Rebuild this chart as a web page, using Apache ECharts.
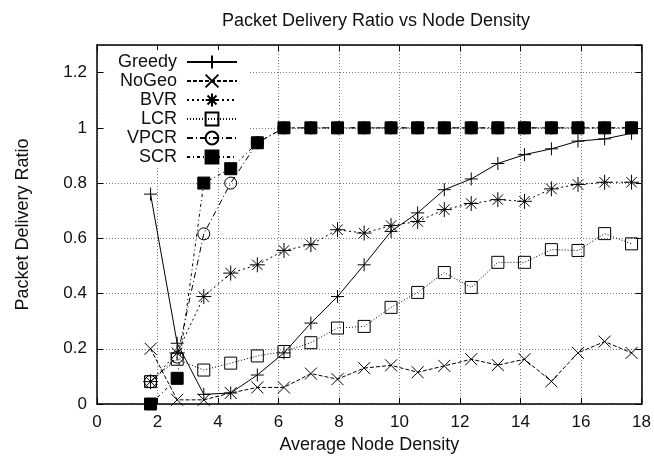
<!DOCTYPE html>
<html>
<head>
<meta charset="utf-8">
<script src="https://cdn.jsdelivr.net/npm/echarts@6/dist/echarts.min.js"></script>
<style>
  html, body { margin: 0; padding: 0; background: #fff; }
  #chart { width: 654px; height: 462px; }
</style>
</head>
<body>
<div id="chart"></div>
<script>
// Average node density at each simulated point
const density = [1.77, 2.65, 3.53, 4.42, 5.30, 6.18, 7.07, 7.95, 8.83, 9.72,
                 10.60, 11.48, 12.37, 13.25, 14.13, 15.02, 15.90, 16.78, 17.67];

// Packet delivery ratio per routing scheme
const greedy = [0.76, 0.22, 0.035, 0.04, 0.105, 0.185, 0.293, 0.389, 0.504, 0.625,
                0.692, 0.776, 0.815, 0.871, 0.903, 0.924, 0.952, 0.960, 0.980];
const noGeo  = [0.20, 0.015, 0.015, 0.04, 0.06, 0.06, 0.11, 0.09, 0.13, 0.14,
                0.115, 0.138, 0.162, 0.141, 0.162, 0.082, 0.185, 0.226, 0.185];
const bvr    = [0.081, 0.185, 0.389, 0.474, 0.504, 0.556, 0.577, 0.631, 0.619, 0.646,
                0.661, 0.704, 0.726, 0.740, 0.734, 0.779, 0.795, 0.803, 0.803];
const lcr    = [0.081, 0.162, 0.123, 0.148, 0.174, 0.19, 0.222, 0.275, 0.281, 0.35,
                0.404, 0.476, 0.422, 0.513, 0.513, 0.559, 0.556, 0.617, 0.58];
const vpcr   = [0.081, 0.17, 0.616, 0.80, 0.946, 1, 1, 1, 1, 1,
                1, 1, 1, 1, 1, 1, 1, 1, 1];
const scr    = [0, 0.093, 0.80, 0.852, 0.946, 1, 1, 1, 1, 1,
                1, 1, 1, 1, 1, 1, 1, 1, 1];

const xTicks = { min: 0, max: 18, step: 2 };
const yTicks = { min: 0, max: 1.3, step: 0.2 };

const FONT = '"Liberation Sans", Arial, Helvetica, sans-serif';
const INK = '#000';

// Stroked marker shapes (plus, cross, asterisk)
const PLUS = 'path://M6,0L6,12M0,6L12,6';
const CROSS = 'path://M0,0L12,12M12,0L0,12';
const STAR = 'path://M6,0L6,12M0,6L12,6M1.8,1.8L10.2,10.2M10.2,1.8L1.8,10.2';

const pairs = ys => ys.map((y, i) => [density[i], y]);

function makeSeries(name, values, symbol, size, dash, filled) {
  return {
    name: name,
    type: 'line',
    z: 5,
    xAxisIndex: 0,
    yAxisIndex: 0,
    data: pairs(values),
    symbol: symbol,
    symbolSize: size,
    showSymbol: true,
    showAllSymbol: true,
    lineStyle: { color: INK, width: 1, type: dash },
    itemStyle: {
      color: filled ? INK : 'rgba(0,0,0,0)',
      borderColor: INK,
      borderWidth: 1
    },
    emphasis: { disabled: true }
  };
}

const chart = echarts.init(document.getElementById('chart'), null, { renderer: 'canvas' });

const axisCommon = {
  type: 'value',
  axisLine: { show: true, onZero: false, lineStyle: { color: INK, width: 1.5 } },
  axisTick: { show: true, inside: true, length: 6, lineStyle: { color: INK, width: 1 } },
  axisLabel: { color: '#111', fontSize: 17, fontFamily: FONT }
};

chart.setOption({
  animation: false,
  backgroundColor: '#fff',
  title: {
    text: 'Packet Delivery Ratio vs Node Density',
    left: 371,
    top: 7,
    textAlign: 'center',
    textStyle: { fontSize: 18, fontWeight: 'normal', color: '#111', fontFamily: FONT }
  },
  grid: { left: 97, right: 11, top: 45, bottom: 58, containLabel: false },
  legend: {
    data: ['Greedy', 'NoGeo', 'BVR', 'LCR', 'VPCR', 'SCR'],
    orient: 'vertical',
    align: 'right',
    right: 406,
    top: 50,
    z: 4,
    itemWidth: 50,
    itemHeight: 16,
    itemGap: 1,
    padding: [3, 10, 0, 14],
    backgroundColor: '#fff',
    formatter: n => n + ' ',
    textStyle: { fontSize: 18, lineHeight: 18, color: '#111', fontFamily: FONT },
    selectedMode: false
  },
  xAxis: [
    Object.assign({}, axisCommon, {
      position: 'bottom',
      min: xTicks.min, max: xTicks.max, interval: xTicks.step,
      name: 'Average Node Density',
      nameLocation: 'middle',
      nameGap: 31,
      nameTextStyle: { fontSize: 18, color: '#111', fontFamily: FONT },
      axisLabel: Object.assign({}, axisCommon.axisLabel, { margin: 10 }),
      splitLine: { show: true, lineStyle: { color: '#777', width: 1, type: [1, 2] } }
    }),
    Object.assign({}, axisCommon, {
      position: 'top',
      min: xTicks.min, max: xTicks.max, interval: xTicks.step,
      axisLabel: { show: false },
      splitLine: { show: false }
    })
  ],
  yAxis: [
    Object.assign({}, axisCommon, {
      position: 'left',
      min: yTicks.min, max: yTicks.max, interval: yTicks.step,
      name: 'Packet Delivery Ratio',
      nameLocation: 'middle',
      nameGap: 65,
      nameTextStyle: { fontSize: 18, color: '#111', fontFamily: FONT },
      axisLabel: Object.assign({}, axisCommon.axisLabel, {
        margin: 10, showMaxLabel: false,
        formatter: v => (Math.round(v * 10) / 10).toString()
      }),
      splitLine: { show: true, lineStyle: { color: '#777', width: 1, type: [1, 2] } }
    }),
    Object.assign({}, axisCommon, {
      position: 'right',
      min: yTicks.min, max: yTicks.max, interval: yTicks.step,
      axisLabel: { show: false },
      splitLine: { show: false }
    })
  ],
  series: [
    makeSeries('Greedy', greedy, PLUS, 13, 'solid', true),
    makeSeries('NoGeo', noGeo, CROSS, 12, [4, 2], true),
    makeSeries('BVR', bvr, STAR, 15, [2, 3], true),
    makeSeries('LCR', lcr, 'rect', 12, [1, 2], false),
    makeSeries('VPCR', vpcr, 'circle', 12, [6, 3, 1, 3], false),
    makeSeries('SCR', scr, 'rect', 12, [3, 3, 1, 3], true)
  ]
});
</script>
</body>
</html>
